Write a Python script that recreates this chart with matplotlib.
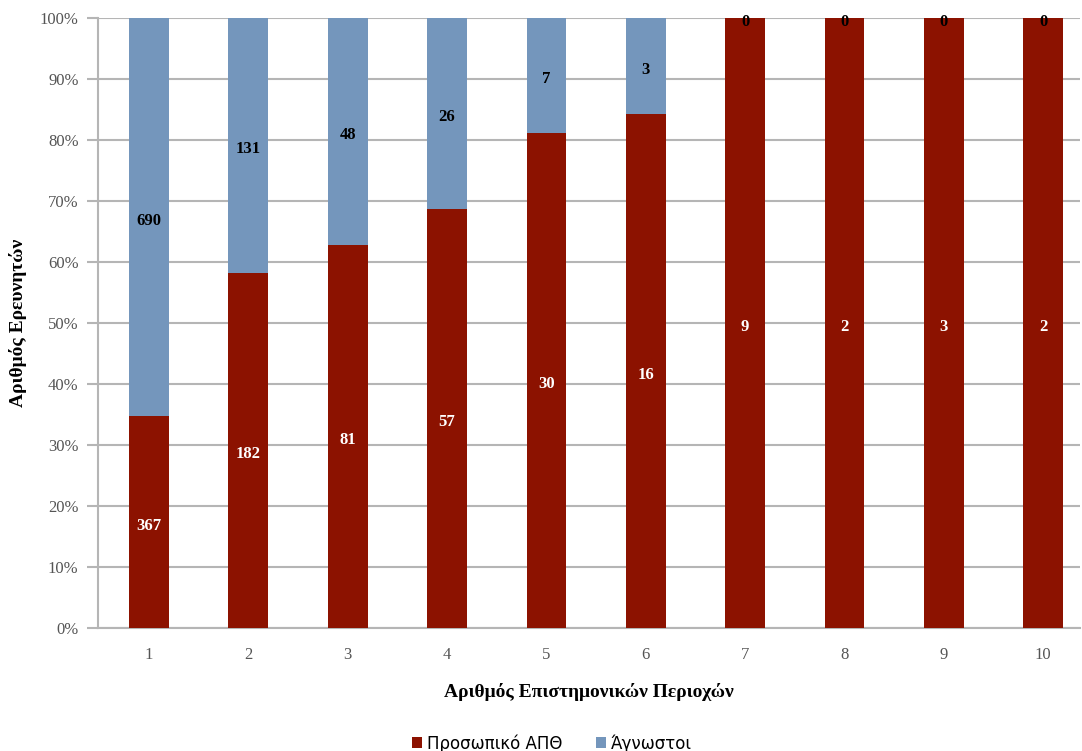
import numpy as np
import matplotlib.pyplot as plt
from matplotlib.ticker import PercentFormatter

categories = ['1', '2', '3', '4', '5', '6', '7', '8', '9', '10']
staff = [367, 182, 81, 57, 30, 16, 9, 2, 3, 2]
unknown = [690, 131, 48, 26, 7, 3, 0, 0, 0, 0]
series_names = ['Προσωπικό ΑΠΘ', 'Άγνωστοι']

red = '#8c1200'
blue = '#7496bc'
grid_c = '#b5b5b5'
serif = ['Liberation Serif', 'DejaVu Serif']

staff_a = np.array(staff, dtype=float)
unk_a = np.array(unknown, dtype=float)
tot = staff_a + unk_a
p_staff = staff_a / tot * 100
p_unk = unk_a / tot * 100

fig = plt.figure(figsize=(10.82, 7.51), dpi=100)
ax = fig.add_axes([98 / 1082, 1 - 628 / 751, (1080 - 98) / 1082, (628 - 18) / 751])

x = np.arange(len(categories))
w = 0.40
ax.bar(x, p_staff, w, color=red, label=series_names[0], zorder=3)
ax.bar(x, p_unk, w, bottom=p_staff, color=blue, label=series_names[1], zorder=3)

# segment labels, slightly below the centre like the original
for i in range(len(x)):
    ax.text(x[i], p_staff[i] / 2 - 0.6, str(staff[i]), ha='center', va='center',
            color='white', fontsize=12, fontweight='bold', family=serif, zorder=4)
    ax.text(x[i], p_staff[i] + p_unk[i] / 2 - 0.6, str(unknown[i]), ha='center', va='center',
            color='black', fontsize=12, fontweight='bold', family=serif, zorder=4)

ax.set_xlim(-0.513, 9.37)
ax.set_ylim(0, 100)
ax.set_yticks(np.arange(0, 101, 10))
ax.yaxis.set_major_formatter(PercentFormatter(decimals=0))
ax.set_xticks(x)
ax.set_xticklabels(categories)
ax.grid(axis='y', color=grid_c, linewidth=1.5, zorder=0)
for s in ['top', 'right']:
    ax.spines[s].set_visible(False)
ax.spines['left'].set_color(grid_c)
ax.spines['left'].set_linewidth(1.5)
ax.spines['bottom'].set_color(grid_c)
ax.spines['bottom'].set_linewidth(1.5)
ax.tick_params(axis='y', length=8, width=1.5, color=grid_c, labelsize=12, labelcolor='#555555', pad=6)
ax.tick_params(axis='x', length=0, labelsize=12, labelcolor='#555555', pad=14)
for lab in ax.get_xticklabels() + ax.get_yticklabels():
    lab.set_family(serif)

ax.set_xlabel('Αριθμός Επιστημονικών Περιοχών', fontsize=14, fontweight='bold',
              family=serif, labelpad=14)
ax.set_ylabel('Αριθμός Ερευνητών', fontsize=14, fontweight='bold', family=serif, labelpad=9)

fig.legend(loc='lower center', bbox_to_anchor=(0.51, -0.022), ncol=2, frameon=False,
           handlelength=0.6, handleheight=0.6, handletextpad=0.3, columnspacing=2.0,
           prop={'family': 'DejaVu Sans', 'size': 12})

fig.savefig('out.png', dpi=100)
